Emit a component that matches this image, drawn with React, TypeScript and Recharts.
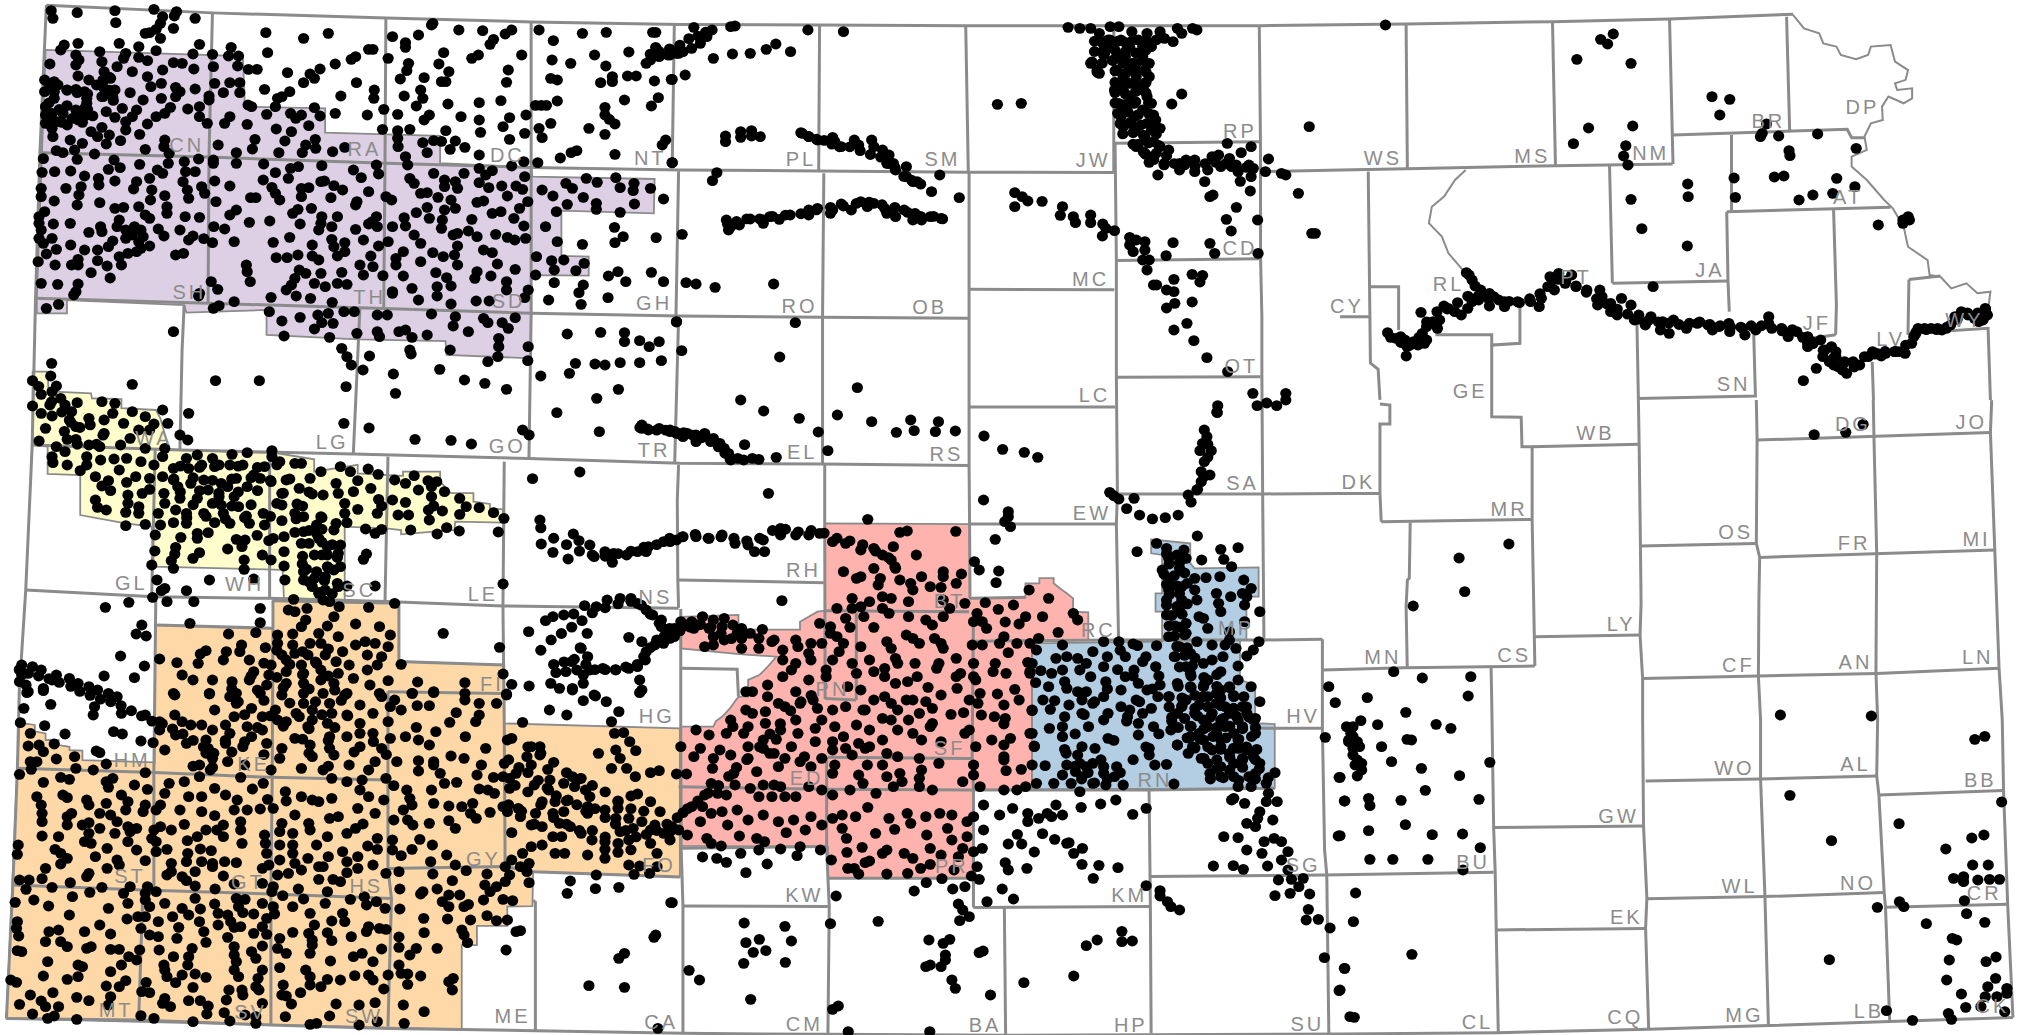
import React from "react";
import { ScatterChart, Scatter, XAxis, YAxis } from "recharts";

const WIDTH = 2019;
const HEIGHT = 1035;
const MAP_W = 1568;
const MAP_H = 803.8;
const UNIT = WIDTH / MAP_W;
const GRAY = "#8b8b8b";

const purpleArea = [35.4,38.8,188.6,43.5,190.2,82.8,252.5,84.1,252.5,103,341.8,105.6,341.8,126.8,412.5,130,413.5,137.2,508.4,139,507.8,165.7,436,163.6,436,198.8,457.2,199.3,457.2,214,412.5,213.6,412.5,278.3,346.8,275.7,346,265,277.8,263.5,207,260,207,240.7,144.8,242.8,143,237,52,233,52,243.3,28.6,243.3,28.6,231.7];
const yellowArea = [25.3,288.6,37,288.6,37.7,304,70.7,305.5,71.4,309.3,94.3,310,94.3,317,121.2,318.4,124.6,325,131.3,349,215.5,352,244,356.7,244,366.3,277.8,361,277.8,367.6,299.7,368.9,313,369.6,313,366.3,341.8,366.3,341.8,374,350.2,383,367.7,383,367.7,389.6,380.5,391.4,380.5,394.8,390.6,395.5,390.6,405.9,353.5,405.1,352.9,411.6,311.5,415,311.5,411.6,299.7,410.3,267.7,409,267.7,466,220.5,464.6,219.5,442.6,119.5,440,117.8,409,97.6,406.4,62.3,400,62.3,368.9,37,368,37,346.9,25.3,345.6];
const orangeArea = [212,466.5,309.8,468.5,309.8,513.8,391.6,516.4,391.6,561.8,528,565.7,528,681,414,677,413.5,703.7,394,704,394,719,370.4,719,370.4,734,358.6,734,358.6,799.5,5,791,15,561.3,27,563,27,568,35.4,569.6,35.4,574.7,45.5,574.7,45.5,578.6,54,580,54,582.5,64,583,64,590.3,120,592,120.5,485.4,212,488];
const pinkArea = [640.8,406.4,753.3,407,753.3,464.7,796.4,463.9,796.4,453,807.2,453,807.2,449,818.3,449,818.3,453,823.3,457,828.4,460.8,833.4,464.7,833.4,475,845.2,475.5,845.2,497,801.5,498.3,801.5,613,756,613.5,756,682,643,682,643,657.5,529,657,528.7,564.3,554,564.3,556,560,561,556.5,567,550,572,543,574,541,581,541,581,528,590,524,596,518,603,510,574,508,528.7,503.5,528.7,479,573.5,477.6,573.5,489,621.3,489,621.3,482.8,634.8,475,640.8,474.3];
const blueArea = [894,419,924.4,422,924.4,437.5,927.7,441.4,977.5,440.6,977.5,463.4,968,463.4,968,497,963,497,963,528,974.8,532,974.8,561.7,990,562.3,990,612.2,801.5,613,801.5,499.6,902.5,498.3,902.5,475,897.4,475,897.4,460.8,902.5,460.8,902.5,431,894,429.7];
const regionFills = ["#ddcfe4", "#fefdcb", "#fed8a6", "#ffb3af", "#b3cde3"];
const regionAreas = [purpleArea, yellowArea, orangeArea, pinkArea, blueArea];

const countyLines = [
[36,4,165,10,300,14,413,17,528,19,636.5,19.4,750,20,865,20,978,20,1092,18.6,1205.7,16.8,1296.6,14.8,1392.6,11],
[36,4,31,119,27.6,232,25,345.6,20,458,15,536,13.5,597,10,687,5,791],
[165,10,162.3,122,161.6,235],[299.7,13.5,299,126.8,298,239.5],[412.5,17,412.5,130,412.5,243,410.8,356],
[523.7,19,522,132],[527,133,525,245],[527,247,524,359],[527,361,526,388,526.4,450,527,472],
[32,118.6,161.6,122,299.7,126.8,412.5,130,528,132,636,132.8,752.6,133.8,865,134],
[978.9,133.3,1041,132,1093,131,1208,128.7,1299,127.4],
[27.6,231.7,161.6,235.5,298,239.5,412.5,243.3,528,245.4,638,246.4,752.6,247.2],
[25,345.6,139.7,349.5,274.4,352.6,410.8,356,528,359.8,638,360.3,752.6,361.6],
[20,458.2,119.5,463.4,208.8,464.7,299.7,467.2,390.6,470.6,527,472.4],
[143,237,141.4,272,139.7,349.5],[279.5,239.5,274.4,352.6],
[120.5,349.5,117.8,463.4],[209.4,352,209.4,464.7],[301.3,354.6,299,467.2],[391.6,358.5,390.6,470.6,391.6,562,392.3,673],
[121,464.6,119.5,600.6,119.5,691],[212,466.5,212,488,211.4,603.7,210.4,694.3,210.4,796],[122,485.4,212,488],
[212,466.5,309.8,468.5,309.8,513.8,391.6,516.4],[301.3,537.2,390.6,538.5],
[301.3,537,301.3,605.8,301.3,674.4,304,697.7,301.3,797.3],
[13.5,596.7,119.5,600,210.4,603.7,301.3,605.8],[10,687.4,111,691.2,210.4,694.3,304,697.7],[111,691,107.7,791.9],
[301.3,674.4,392.3,673,414,677,528,681],[528.7,473,528.7,564.3,529,658.8,530.4,703.6,530.4,802.5],
[415.8,699.8,415.8,800.5],[413.5,699.8,415.8,699.8],
[5,791,108,792.2,210.4,796,301,798.7,358.6,799.5,415.8,800.5,530.4,802.5,643,803.3,781,804,1040.7,803,1163.6,802,1280.4,799.4,1373.4,796.5,1467.6,793.4,1563.3,790.3],
[528.7,658.8,642,657.5],[530.4,703.6,643,704],[528.7,519,572.5,519.8,573.5,541],
[636.5,19.4,635.8,132.8],[639.8,134.6,638.8,246,638.8,360],[640.5,361,640.5,406,640.8,543],[527,450.4,639.8,452.5],
[750,20,752,133],[752.6,134,752.6,224.7,752.6,316,752.6,361.6,753,407,753.3,464.7],
[865,20,865,134],[866,111,867,202.4,867,293,867.8,383.6,867,407,868.7,497],
[978,20,978.9,111,979,200.6,980,246,980,291,980.6,383.6,981.6,497],
[865.4,111.3,978,110],[867,202.4,978,201],[752.6,224.7,865.4,225],[867,293,978.9,292.5],[753,316,866,316],
[867.8,383.6,980.6,383.6,1040.7,383.2,1071.7,383.2],[753,407,867,407],[753.3,464.7,796.4,463.9],
[640.8,474.3,752.6,475],[665,476,665,543.6],[640.8,542.4,665,543.6],[643,588,755,589],[642,588,642,660,643,682,644,704,643,802.5],
[527,611,641.5,613,756,613.5],[643,682,756,682],[756,475,755,587.6,756,613.5,756,682,756,704.7],[756,704.7,893.4,704],[780,704.7,781,803.8],
[892.4,613.5,893.4,704,894,802.5],[756,498,868.7,497,981.6,497,1027,496.5],[756,613.5,892.4,613.5,990,612.2],
[973,565.6,1027,565.6],[1027,496.5,1027,565.6,1028.7,660,1030.4,679.5,1032,802.5],[1027,520.3,1091,518.6,1192,517.3],
[893.4,680.8,1028.7,679.5,1160,677.4],
[1158,518,1158.5,543.6,1160,642.7,1161.2,677.4,1162,722,1163.6,802],
[1160,642.7,1276.4,641.5],[1162,722.2,1278,721],
[1272.4,310.7,1273,345,1274,423.3,1274.5,469,1273.7,493.2,1275.7,526.9,1275.7,559,1276.4,641.5,1279,697.6,1278,721,1280.4,799.4],
[1278,606.5,1367.3,605,1457.5,602.6],[1279,698,1370.7,696.3,1463.3,693.2],
[1364,310.7,1364.6,341.8,1364,422,1366.6,432.9,1366,466,1365.6,525,1367.3,559,1367.3,605,1370.7,696.3,1373.4,796.5],
[1454.8,310.7,1455.5,346,1457.5,429.8,1456.9,521.7,1458.2,559,1457.5,602.6,1459.2,617.4,1463.3,693.2,1464.3,704,1467.6,793.4],
[1459.2,617.4,1556,614],[1464.3,704.6,1559.2,702.3],
[1546.8,310.7,1545.8,335.8,1549.2,427.2,1552.5,519,1555,559,1556,614,1559.2,702.3,1563.3,790.3],
[1274,424,1364,422],[1275.7,527,1365.6,525,1457.5,523,1552.5,519],[1364.6,341.8,1545.8,335.8],[1366.6,432.9,1549.2,427.2],
[1092.9,518.6,1092,471,1093,450.5,1094.5,449,1095.2,406],[1072.7,405.2,1189.9,403.4],
[1071.7,313.8,1079.4,314.6,1079.4,329.3,1071.7,329.3,1071.7,383.2,1072.7,405.2],
[1158.5,268,1158.5,323.6,1181.4,324,1182,347,1189.9,347,1189.9,403.4,1192,517.3],[1189.9,347,1273,345],[1192,494.5,1273.7,493.2],
[1092,18.6,1093,131],[1205.7,16.8,1208,128.7],[1296.6,15,1299.3,127.4],[1299.3,104.8,1434.6,100.4,1438,107,1448,107],
[1387.5,13,1389.9,101.5],[1344.7,104.8,1344.7,163.6],[1341,164.4,1468.3,161],[1341,164.4,1342,218.2,1343,242],
[1424,163,1426.2,236.9,1425.6,260],[1397.6,264,1425.6,260],[1250,128.7,1252.2,220],[1252.2,220,1342,218.2],
[1482.5,217,1507,214.3],[1482.5,217,1481.8,259,1544,255,1545.8,310.7],[1454,281,1455,310.7],
[1271.3,252.4,1272.4,309.4,1363.3,307.5,1362,260],
[1180.4,238,1180.4,266.6,1158.5,268,1158.5,260,1114.8,260],[1064.3,222.6,1086.2,222.6,1086.2,256.3],
[1062.6,133.3,1064.3,282,1070.3,286.8,1071.7,310.6],[1040.7,246,1063.6,246],
];

const riverLines = [
[1392.5,11.6,1401,22,1412.8,25.9,1416,33.7,1426.2,36.2,1429.6,42.7,1441.4,46,1450.8,42.7,1453,36.2,1468.3,35,1471.7,47.9,1481.8,54.4,1480,62,1471.7,64.7,1473.4,69.9,1485,68.6,1485,76.4,1478.4,80.2,1466.6,75,1461.6,82.8,1462.2,93.2,1453,95.8,1448,106,1449.8,116.5,1438,121.7,1438,129.4,1449.8,139.8,1463.3,155.3,1470,161.8,1478.4,176,1481.8,191.6,1497,202,1498.6,213.6,1507,214.9,1515.4,224,1527.2,220,1535.7,227.8,1545.8,226.5,1544,240.7],
[1138.3,132,1130,139.8,1121.5,152.7,1112,160.5,1109.7,173.4,1119.8,183.8,1124.9,196.7,1138.3,212.3],
];

const labelNames = ["CN","RA","DC","NT","PL","SM","JW","RP","WS","MS","NM","BR","DP","AT","JA","PT","RL","CD","MC","CY","GE","OT","LC","OB","RO","GH","SD","TH","SH","WA","LG","GO","TR","EL","RS","SA","DK","SN","JF","LV","WY","DG","JO","WB","MR","OS","FR","MI","LY","CS","MN","CF","AN","LN","WO","AL","BB","GW","NO","WL","CR","EK","BU","SG","KM","HV","RN","MP","RC","EW","RH","NS","LE","SC","WH","GL","BT","PN","SF","ED","HG","FI","HM","KE","ST","GT","HS","GY","FO","MT","SV","SW","ME","CA","KW","PR","CM","BA","HP","SU","CL","CQ","MG","LB","CK"];
const labelXs = [145,283,394,505,622,732,849,963,1074,1190,1282,1373.4,1446.4,1435.3,1328,1224,1125,963,847,1046,1141.7,964,850,722,621,508,395,287,147,119.5,258,394,508,623,735,965,1055,1346.4,1411,1468.3,1525.6,1439,1531,1239,1172,1348,1440,1535,1259,1176,1074,1350,1441,1536,1347,1441,1538,1257,1443,1351,1541,1263,1144,1012,877,1012,897,960,853,848,624,509,375,279,190,102,737.5,646.5,737.5,626.4,510,382,102.7,197,101,192.6,284.5,375.4,511.8,90.2,194.6,282.8,398,513.5,624.7,739.2,624.7,765,878.2,1015.3,1147.4,1262.3,1354.8,1451.5,1547.4];
const labelYs = [112,115,120,122,123,123,124,101,122,121,118.6,93.2,82.8,152.7,209,214.9,220,192,216,237,303.4,284,306,238,237,235,233,230,226,339.6,343,346,349,351,352,375,374,298.2,250.6,262.7,248,329,327,336,395,413,421,418,484,508,510,516,514,510,596,593,605,633,685,688,693,712,669,671,695,556,605,487,489,398,442,463,461,458,453,452,466,534.6,580.4,603.7,555.3,530.7,589.7,592.9,680.3,684.7,688,666.6,671,784,785.7,788.3,788.3,793.5,695,672.5,794.7,796,796,794.7,793.4,789.5,787.5,785,781];

const dotsNorthwest = [118,32,122,55,178,38,265,32,267,68,355,28,407,35,402,48,375,50,370,70,360,88,345,98,335,100,400,85,370,115,450,55,460,133,275,130,320,140,360,152,180,130,148,135,140,150,613,98,700,115,757,100,617,158,663,218,773,192,810,178,820,170,850,148,860,148,738,207,715,222,700,248,725,235,822,248,610,268,668,275,650,290,640,295,635,320,786,288,863,270,862,295,885,328,847,345,773,340,725,323,738,348,905,110,965,105,998,70,995,75,935,128,935,142,1023,158,895,175,942,190,938,212,923,237,978,233,1012,192,1035,215,1018,245,1028,245,932,288,970,270,975,295,960,318,917,343,990,345,978,360,1033,312,1063,350,1105,308,1105,360,1155,302,1175,353,1160,380,1108,397,1175,418,1213,345,1210,400,945,388,917,392,882,388,1028,392,1058,90,1113,92,1180,90,1165,102,1138,118,1130,133,1203,165,1103,165,1088,175,1172,210,1168,247,1243,90,1276,122,1343,100,1398,97,1505,97,1512,97,1273,180,1316,190,1371,165,1450,156,1397,198,1512,142,1490,190,1500,180,1520,170,1540,165,1555,155,1565,160,1270,235,1285,240,1412,230,1412,245,1385,248,1447,228,1467,228,1509,243,1548,238,1285,303,1235,316,1248,316,1260,316,1440,300,1518,293,1502,318,1395,322,1395,345,1405,358,1418,372,1270,370,1358,385,1243,385,1395,403,1250,413,1535,420,1527,435,1330,452,1317,458,1292,474,1418,463,1550,488,1240,488,1208,485,1180,498,1105,465,1072,442,1050,423,1038,448,1018,424,1000,422,975,428,985,458,917,415,918,440,
115,192,175,165,182,180,230,155,290,160,175,195,235,185,320,172,340,182,400,188,445,162,420,190,447,207,375,210,305,215,240,215,270,200,285,175,180,228,205,240,240,240,255,235,340,230,372,250,348,260,405,262,450,267,103,240,125,245,103,275,125,275,155,270,175,268,195,275,240,265,265,270,300,278,330,300,372,295,405,290,415,275,105,320,125,295,200,295,235,290,260,290,120,340,105,345,145,340,175,330,195,325,200,310,245,335,282,325,315,330,393,322,433,327,460,320,460,350,478,370,105,370,130,365,155,375,180,360,120,385,122,410,200,345,265,352,305,350,360,350,380,340,340,372,290,365,235,382,210,395,225,410,252,405,290,390,322,403,278,422,245,432,190,430,162,420,380,420,378,440,130,452,145,458,172,450,335,448,218,462,390,460,100,476,178,478,263,480,322,493,388,490,425,485,458,477,97,517,126,515,163,513,195,528,250,508,277,503,363,510,375,520,428,515,450,515,345,535,227,535,265,543,315,545,228,555,422,545,95,565,152,565,187,560,308,567,350,570,432,570,465,560,95,590,182,585,380,587,472,580,435,595,125,603,347,600,230,608,178,615,265,625,285,622,320,620,385,620,385,640,103,635,90,650,335,645,345,655,427,650,460,652,90,670,123,672,162,670,275,660,95,690,270,680,310,680,325,690,232,680,365,687,205,697,235,695,290,690,415,690,90,715,120,715,305,705,330,710,378,708,445,708,435,720,470,716,490,728,100,730,163,735,260,723,290,715,320,725,345,738,130,748,195,750,225,750,250,740,325,745,107,762,180,778,225,782,275,770,315,755,295,760,423,760,405,765,88,785,127,795,165,795,180,795,247,798,280,795,210,818,254,834,95,850,133,853,180,852,175,875,170,885,107,925,135,913,
490,163,527,168,533,142,550,168,492,200,548,198,573,208,593,208,495,250,530,248,553,248,515,278,553,278,482,288,482,300,572,315,580,320,615,343,530,350,518,370,570,373,670,340,695,345,682,355,712,377,637,387,672,395,727,418,588,418,582,447,503,435,545,458,657,423,705,435,643,458,697,458,728,445,767,455,795,442,492,480,492,490,545,490,608,492,742,497,635,518,670,505,688,500,665,535,607,540,815,510,833,533,868,495,873,522,740,545,748,543,495,543,530,558,627,562,635,580,645,600,695,565,712,563,770,557,790,570,850,575,695,590,763,593,890,590,903,600,578,593,590,593,498,605,823,605,820,615,545,630,530,645,687,628,718,625,675,640,692,672,742,650,778,650,575,667,622,663,858,665,868,650,850,672,870,680,740,670,765,680,735,690,493,680,518,687,905,680,820,688,668,712,540,725,630,727,765,718,838,720,895,725,873,738,720,735,770,740,795,728,795,755,778,768,720,768,735,780,855,768,637,773,662,773,687,765,568,795,570,815,577,845,830,795,860,800,788,817,838,825,883,827,740,820,690,810,705,820,680,835,672,855,660,870,725,850,750,860,778,850,800,853,487,845,502,868,460,880,458,888,625,892,683,888,716,895,540,905,766,907,905,880,492,925,505,917,621,935,870,945,893,945,793,935,817,935,733,945,757,940,
905,875,965,900,950,865,1008,860,1008,888,1040,858,1030,833,1098,903,1128,903,1040,912,1168,845,1168,870,1218,870,1210,893,930,828,930,755,913,775,913,795,970,785,998,758,1005,818,1055,795,1022,770,1048,765,1055,738,1100,815,1095,835,1132,828,1188,808,1147,792,1115,750,1135,758,1045,705,1055,700,1080,693,1100,710,1143,703,1170,712,1187,720,1212,715,1208,678,1185,655,1198,625,1217,605,1135,640,1155,635,1088,658,1040,600,1025,630,1050,625,1020,660,1018,685,960,638,985,622,990,655,932,653,935,678,955,705,970,730,1010,592,970,580,985,578,1100,607,1115,603,1170,588,1157,558,1127,563,1190,558,1205,568,1105,548,1050,545,1025,540,1025,560,1055,565,955,550,945,535,1000,520,1070,520,1105,505,1135,512,1210,530,940,495,935,470,1120,525,
1250,570,1275,588,1305,550,1320,565,1352,535,1377,547,1420,533,1430,563,1462,550,1460,572,1500,565,1345,592,1375,610,1375,628,1308,613,1283,635,1463,612,1430,637,1530,597,1258,680,1285,725,1417,682,1437,710,1418,728,1513,713,1343,733,1237,770,1272,782,1300,780,1347,790,1278,810,1328,812,1235,825,1425,815,1403,828,1443,845,1502,817,1530,845,1278,848,1345,855,1335,878,1265,900,1340,913,1402,893,650,963,692,952,742,968,768,970,725,987,655,1008,760,1012,823,1000,870,995,875,1010,920,995,935,990,950,1012,985,1005,995,942,1050,950,1045,978,1115,955,1125,968,1188,953,1158,968,1172,985,1080,995,1150,1015,1150,1040,1218,1040,400,995,1308,1002,1385,997,1440,998,1440,1025,1475,1022,1520,1025,1497,1040,1560,965,788,1045,945,1050,1038,1050];

const dotsWest = [119,40,117,78,75,92,130,108,120,125,95,133,305,103,497,92,598,92,852,18,800,20,810,45,837,60,798,110,907,72,912,130,948,12,1014,58,1071,90,1118,100,1168,118,1125,35,1148,20,1217,32,1247,78,1313,70,1327,40,1372,42,1395,45,1430,38,1475,38,1525,32,1376,145,1426,118,1284,188,1382,245,435,190,793,220,851,234,957,268,1040,271,1087,282,1205,240,1220,255,
140,145,150,165,75,168,115,165,178,158,235,155,265,160,95,190,120,198,165,185,160,210,205,205,260,190,305,185,105,235,175,230,240,210,285,220,335,200,375,180,355,222,387,220,415,255,433,270,90,273,155,268,175,268,240,250,300,265,205,285,230,290,278,285,320,240,345,240,335,295,380,295,130,290,150,305,120,320,122,338,200,320,232,330,263,327,292,325,375,320,430,325,455,315,490,325,535,313,570,308,627,302,627,320,155,345,185,362,200,345,325,335,355,345,400,355,435,355,465,345,495,350,530,345,560,345,610,350,645,335,680,340,695,340,740,365,785,350,808,365,849,357,872,373,275,360,220,380,313,380,345,385,375,380,400,390,440,400,470,390,510,400,545,385,585,375,625,395,660,390,715,385,775,400,825,392,910,390,955,377,935,400,987,392,1007,395,250,392,292,397,235,408,255,422,345,418,328,430,378,430,410,410,480,420,525,410,570,410,600,385,690,415,815,425,855,415,965,420,995,410,1025,425,295,435,380,460,415,445,455,445,505,440,540,440,650,430,720,432,745,435,780,430,1060,445,905,450,995,440,220,450,295,460,320,470,405,480,430,490,510,465,550,470,650,465,685,462,795,460,825,478,873,448,880,468,935,457,1000,468,1075,470,1105,473,1138,488,1162,505,225,472,245,480,290,487,320,490,365,490,470,490,515,490,568,498,607,490,680,490,700,500,740,500,795,490,870,490,918,495,942,495,988,480,1020,483,1060,493,400,518,430,520,495,518,530,520,575,520,610,525,650,512,730,525,775,520,800,518,990,510,290,527,335,523,370,525,480,548,455,550,455,565,358,555,417,562,593,556,655,560,680,547,700,545,730,550,770,540,843,537,865,550,880,538,947,540,1008,552,1030,533,1059,543,1149,546,545,568,565,570,620,572,630,565,695,580,735,565,785,585,558,590,405,592,525,597,655,605,755,590,780,610,357,603,403,612,460,608,445,625,605,615,625,630,725,615,755,615,845,612,838,628,395,632,563,630,350,645,400,655,563,658,655,648,697,642,785,650,755,650,700,665,730,665,770,660,362,690,483,690,585,687,657,690,700,690,725,685,750,680,380,715,430,722,372,722,865,708,720,710,780,710,750,720,735,730,800,708,352,742,447,755,385,755,297,757,243,772,677,748,745,750,760,755,782,770,850,772,910,760,600,775,1160,702,
1228,386,1337,366,1245,510,1322,552,1335,572,1248,582,1275,607,1310,627,1360,585,1370,620,1395,605,1415,610,1412,637,1445,615,1470,605,1495,590,1530,575,1560,570,1490,605,1480,235,1495,240,1520,235,1545,240,1560,250,1480,225,
665,780,680,785,708,775,770,800,755,828,705,810,695,830,820,822,875,830,600,818,438,820,327,825,314,852,337,858,590,848,527,852,640,855,675,852,735,850,780,860,900,855,1022,850,1219,845,1354,850,1152,892,557,885,612,893,640,880,675,885,715,880,740,880,820,885,842,875,865,880,895,890,475,902,462,912,522,905,553,905,650,915,680,910,710,915,750,915,790,905,847,915,880,920,368,927,408,938,457,940,515,930,575,930,625,945,660,930,695,945,730,940,775,935,805,945,847,960,870,945,925,943,278,918,333,948,240,978,310,983,420,975,585,965,620,975,660,965,700,970,740,960,780,970,815,985,895,992,445,990,490,990,535,995,575,990,615,1005,660,1000,700,1000,740,990,770,1000,853,1005,963,996,1072,998,1160,972,1180,1003,1270,1000,1282,968,1305,965,400,1030,483,1030,545,1030,600,1030,650,1035,700,1030,745,1030,800,1030,875,1030,951,1030,1000,1025,1072,1030,1168,1035,1320,1015,
50,945,75,950,95,960,50,975,45,995,60,1005,65,1025,100,1015,130,975,120,990,160,985,180,1000,205,1010,225,1020,250,1030,270,1040,
1348,767,1375,770,1400,750,1430,745,1455,745,1470,760,1490,780,1505,795,1525,810,1525,830,1555,835,1323,792,1300,795,1275,800,1258,812,1338,893,1355,920,1340,895,1450,862,1480,875,1530,880,1510,885,1490,905,1488,930,1470,950,1450,955,1420,960,1390,955,1360,960,1330,960,1318,935,1345,975,1345,1000,1370,1035,1475,990,1480,1020,1290,1015,1220,1008,1555,860];

const dotsSouthwest = [62,8,100,2,117,43,55,55,218,50,215,75,280,70,335,75,103,107,47,98,150,132,262,125,282,132,325,153,353,158,380,180,222,183,230,188,245,222,70,130,65,168,125,162,90,165,100,185,130,207,172,200,70,215,85,215,175,235,215,240,45,253,72,238,335,248,100,277,140,262,160,268,260,265,245,275,250,292,310,285,340,298,280,315,85,320,95,345,145,315,155,323,200,330,205,345,97,370,97,395,165,370,155,380,245,340,295,335,335,345,230,370,255,375,270,395,290,360,330,365,155,405,190,405,205,398,230,415,265,430,295,410,300,425,315,415,97,438,135,440,205,430,195,455,210,460,295,455,42,465,40,493,127,478,140,490,155,505,220,500,247,475,315,480,270,510,140,522,275,525,335,512,247,535,105,535,205,550,200,560,45,570,67,570,97,566,162,578,300,590,60,598,120,592,235,592,207,607,285,610,335,610,35,637,78,630,112,648,167,620,295,640,250,655,160,675,293,687,318,680,40,695,38,715,43,738,113,725,135,720,195,725,230,705,255,732,325,715,345,735,105,755,140,755,155,770,210,770,200,775,255,778,275,778,40,782,50,785,322,780,297,800,315,810,110,815,180,825,190,830,280,825,100,858,155,868,180,860,255,845,25,870,38,877,245,888,275,890,290,872,122,908,337,877,327,905,345,908,70,915,255,920,177,922,205,932,45,943,95,933,105,950,135,950,250,945,75,972,110,985,125,978,177,988,325,977,355,985,
403,15,483,12,530,20,545,40,580,55,635,60,700,40,720,60,760,40,795,15,830,45,860,70,403,75,420,95,440,105,465,105,495,60,540,80,605,80,640,90,690,80,720,90,765,70,800,75,880,20,368,95,368,120,405,135,430,160,490,120,520,105,570,110,605,120,660,95,710,110,755,100,830,100,895,95,910,30,900,50,950,10,1000,8,1072,30,1105,40,1145,40,1168,12,925,60,962,47,990,47,1052,68,1105,75,1037,97,1097,95,960,112,1005,125,1073,140,1120,175,1040,198,1070,205,1000,215,1110,225,1100,255,1138,262,
475,150,530,130,580,140,615,160,650,175,680,145,715,165,760,140,800,140,830,130,860,130,900,145,935,140,965,150,990,165,880,175,830,170,760,175,560,170,520,160,480,175,490,205,525,215,645,205,720,200,770,195,805,225,865,215,915,215,965,212,1000,225,460,225,485,240,555,262,625,240,695,235,745,240,765,265,850,240,965,243,890,265,800,275,835,270,1015,250,1025,280,1053,277,995,300,1105,297,1125,300,1140,310,460,260,390,280,425,275,495,295,520,315,582,297,607,280,658,305,695,320,720,330,765,325,830,300,850,320,908,287,938,300,945,325,660,333,380,310,370,345,435,320,465,320,547,330,617,328,735,335,825,355,885,330,950,345,1000,340,1035,348,1065,350,1090,340,1160,350,
360,360,415,360,465,365,495,377,540,360,570,360,600,357,630,355,865,370,930,360,1085,370,1130,367,1170,365,370,410,425,403,475,420,515,405,355,420,500,420,555,395,650,400,680,375,712,400,760,385,780,380,837,402,908,390,940,390,952,405,990,400,1035,392,1098,385,1050,415,395,420,350,445,360,455,555,420,610,435,645,425,675,430,715,420,755,440,800,430,820,415,870,445,905,450,968,448,1180,428,432,452,455,440,515,440,558,460,612,460,645,465,675,465,730,465,848,468,905,480,950,478,997,465,360,485,385,478,462,477,487,482,675,490,790,485,870,478,433,490,615,490,710,505,757,500,825,500,925,497,1030,495,430,515,395,520,465,515,490,520,518,515,545,518,645,510,620,525,680,520,800,515,860,525,993,515,1050,525,395,545,420,560,450,545,490,530,605,535,640,555,665,550,695,540,735,530,745,530,800,548,825,535,920,545,998,552,1075,542,1123,552,385,555,430,572,515,558,735,568,768,568,890,550,1043,572,1118,585,1145,590,360,605,340,590,450,588,496,597,540,582,605,580,630,590,688,597,755,605,785,575,922,597,975,605,1008,597,1130,605,335,630,450,625,545,625,565,628,627,605,652,617,700,627,808,628,840,620,868,635,970,612,1035,615,1060,615,1115,630,1160,628,1182,632,1020,635,345,650,380,640,420,655,462,657,495,642,550,650,605,640,630,650,750,640,845,645,888,655,922,657,1035,650,1070,650,1080,643,365,695,335,680,398,680,435,675,503,670,525,675,560,668,585,672,633,672,675,650,715,670,790,670,1123,677,1145,692,1170,690,977,685,1032,687,1085,690,460,695,503,705,532,695,555,710,615,685,765,693,795,695,412,712,470,725,540,712,605,710,725,705,850,710,875,715,890,718,1190,725,1200,722,1065,720,978,728,365,740,408,745,525,742,585,730,615,733,675,727,712,730,755,728,845,725,1070,735,645,745,720,750,810,740,920,741,765,752,1078,758,475,757,540,770,605,768,640,775,720,765,920,772,960,775,1008,775,1167,780,
367,780,443,775,580,785,660,790,715,790,880,777,835,790,815,800,945,795,400,800,435,800,540,795,590,805,762,813,860,815,545,815,378,825,433,825,605,840,645,833,705,840,920,825,925,850,380,840,385,860,420,855,450,852,475,862,540,840,550,860,715,860,850,855,895,855,940,852,970,858,755,868,785,870,818,857,405,878,445,892,595,865,653,885,715,885,740,890,860,870,1035,875,1045,865,940,883,528,900,558,900,590,890,597,900,885,897,1043,900,693,908,560,915,522,930,650,915,660,918,380,925,435,932,462,932,375,940,393,950,480,948,605,940,672,942,775,942,828,945,865,938,930,945,445,995,477,972,517,968,565,975,530,993,590,1000,658,980,760,978,590,980,715,1003,730,1000,828,1005,870,995,932,1000,978,965,
1170,150,1180,145,1205,97,1163,220,1160,260,1175,265,1175,295,1190,250,1225,170,1245,170,1215,200,1245,195,1225,225,1263,238,1268,270,1232,285,1265,300,1410,95,1427,65,1267,60,1307,75,1345,32,1373,18,1398,35,1475,8,1320,0,1417,130,1438,128,1452,155,1466,182,1380,190,1420,180,1430,205,1410,235,1445,235,1465,260,1500,248,1520,242,1320,260,1340,265,1300,280,1325,290,1350,300,1360,320,1455,318,1470,312,1500,335,1522,365,1250,335,1280,335,1310,330,1355,350,1425,335,1425,355,1195,355,1235,370,1200,380,1275,370,1300,365,1355,370,1395,360,1420,385,1225,405,1250,410,1290,400,1315,410,1275,440,1295,440,1340,430,1365,450,1395,455,1450,385,1480,395,1510,405,1550,410,1430,425,1460,415,1500,420,1450,450,1500,460,1530,430,1545,450,1225,470,1250,465,1280,490,1302,490,1355,495,1395,505,1395,478,1425,487,1515,490,1165,530,1180,510,1205,490,1220,520,1200,530,1175,555,1215,545,1220,578,1450,525,1475,528,1515,530,1375,555,1462,553,1498,550,1315,573,1308,610,1373,596,1427,592,1547,638,1512,735,1508,742,1440,790,1427,805,1358,887,1440,892,1517,1015,1165,575];

const dotsNorthCentral = [55,82,140,80,150,78,97,90,85,110,70,130,50,145,30,155,15,160,0,165,100,175,144,162,185,160,222,148,244,132,278,155,318,90,400,95,35,225,5,238,5,488,128,408,128,425,163,395,163,412,188,392,188,408,208,410,305,400,320,410,340,420,375,412,380,425,395,440,425,420,435,435,465,420,470,440,490,450,505,465,500,490,515,490,520,510,545,500,545,530,560,545,570,545,622,525,603,575,667,593,108,518,98,542,
130,660,140,680,160,675,185,657,215,660,230,650,252,658,277,645,320,630,340,625,375,630,395,612,418,630,440,605,470,610,495,625,520,650,540,630,565,640,580,660,600,650,625,655,320,645,370,640,455,620,500,640,560,660,215,670,135,690,28,703,37,848,60,852,104,862,239,852,15,966,289,968,27,1052,253,1071,163,1200,216,1233,298,1255,342,1296,386,1245,432,1163,465,1265,522,1297,555,1260,563,1292,612,1295,619,1265,658,1293,724,1308,767,1348,817,1357,848,1372,172,1334,364,1352,245,1372,227,1480,
0,1295,20,1300,40,1300,60,1305,80,1300,100,1315,115,1330,125,1345,135,1360,140,1380,170,1380,190,1375,205,1378,60,1325,30,1310,
918,82,945,85,970,85,990,100,1015,80,1035,80,1065,95,1100,100,1130,95,1140,115,1160,125,1170,85,1180,100,1205,85,1215,90,1000,130,1040,120,1080,120,1110,140,1000,165,970,190,985,210,990,220,1030,170,1050,170,1090,170,1030,210,1060,210,1095,210,1035,250,1060,250,1095,250,1025,270,1060,290,1100,290,1035,310,1070,310,1110,310,1040,350,1070,350,1115,345,1045,380,1075,385,1130,385,1120,360,1110,390,1095,410,1115,425,1075,440,1130,440,1095,460,1105,487,1125,525,1140,490,1150,450,1175,490,1190,480,1175,510,1210,515,1210,480,1240,510,1250,470,1265,465,1290,475,1270,500,1285,430,1317,458,1340,440,1295,500,1310,515,1335,495,1345,505,1340,530,1315,544,1373,515,1380,477,1410,520,1420,525,1474,380,1180,282,1157,312,1233,545,1245,590,1252,585,1449,580,1338,573,1306,622,1283,658,1355,660,1294,693,1480,700,1488,700,1245,730,1256,760,1356,760,1160,728,1144,767,1000,150,1020,140,1060,140,1090,140,1045,190,1075,190,1010,120,1045,230,1075,230,1045,270,1080,270,1045,330,1090,330,1060,370,1100,370,1090,270,1105,230,1105,190,755,313,810,310,
795,578,812,590,825,603,795,620,858,604,905,620,900,646,930,650,935,668,970,645,970,668,998,672,1005,685,1025,692,997,708,1060,712,1060,735,1075,720,1095,725,1068,755,1095,750,1090,780,1105,780,1100,810,1115,855,1122,855,1145,870,1162,875,1162,838,1204,823,1228,826,1222,846,1164,910,1204,906,1145,924,1192,970,1162,990,1208,1022,1238,1073,1286,1115,1344,1180,1354,1217,1376,1209,1399,1217,1420,1180,1420,1200,1263,1217,1262,1238,1232,1290,1238,1310,1228,1330,1248,1352,1222,1352,1232,1385,1225,1415,1245,1425,1225,1445,1215,1470,1195,1485,1014,1477,1035,1497,1070,1495,723,1500];

const dotsCentral = [0,125,30,110,60,110,90,115,120,105,150,130,180,135,195,155,215,120,255,85,255,105,290,105,320,105,345,100,375,125,405,130,440,150,470,145,490,165,510,180,515,140,456,58,530,97,547,93,659,94,568,165,218,155,
470,205,520,205,400,215,430,235,440,230,485,235,530,240,555,250,580,230,600,260,630,215,630,230,625,262,672,222,660,250,480,255,560,270,490,290,420,295,460,305,510,295,550,305,645,325,680,310,420,325,440,320,385,325,505,340,490,325,630,300,630,350,727,308,792,315,757,328,708,340,700,365,720,365,828,270,873,295,859,350,773,366,820,350,805,372,930,340,940,360,730,385,895,397,258,302,750,118,702,185,713,210,758,213,752,248,780,35,780,50,772,65,785,80,1216,108,1077,155,1122,130,
25,365,50,365,75,350,100,360,125,355,25,385,55,385,90,385,120,380,5,400,0,415,40,375,65,375,145,375,165,385,213,388,155,400,185,400,100,410,125,420,165,415,205,415,235,425,80,440,100,435,165,445,205,445,240,420,260,450,290,420,295,440,260,480,345,370,370,380,405,355,447,350,470,382,415,382,325,430,350,430,370,400,385,410,400,430,390,455,375,480,320,460,290,490,280,510,325,480,360,510,420,490,440,440,500,425,510,445,560,415,575,430,545,405,590,360,605,375,550,350,610,415,625,430,630,445,697,435,720,435,760,430,770,410,800,430,830,430,850,415,660,475,700,490,750,490,780,458,825,487,520,475,460,480,495,505,525,490,565,490,430,520,470,515,570,530,620,490,615,505,670,520,660,530,700,530,745,515,775,520,830,515,
175,575,190,575,225,555,260,530,290,575,320,540,360,530,410,560,440,570,495,530,520,550,548,545,595,562,662,565,705,540,795,568,225,590,265,620,300,610,330,600,175,630,220,635,250,610,340,625,375,630,405,620,450,630,470,600,495,590,510,610,545,600,560,600,625,585,690,600,710,610,715,580,755,582,805,600,770,615,445,630,525,630,590,605,605,625,648,643,677,638,718,645,748,650,773,655,835,630,140,660,190,640,145,680,180,680,220,670,255,690,290,660,335,685,350,660,380,680,430,675,460,690,490,655,510,660,550,660,575,640,605,670,600,680,690,690,770,672,60,690,90,705,130,700,170,700,215,720,245,718,295,700,335,725,375,725,400,710,435,730,460,740,490,720,525,690,560,700,580,720,625,725,680,700,785,715,770,735,742,720,835,700,25,740,70,745,115,750,180,740,215,745,240,760,280,740,310,770,350,775,375,750,405,745,450,745,500,760,525,770,575,775,705,740,770,770,770,780,840,740,55,770,100,775,140,765,180,775,230,760,265,775,300,785,380,795,375,820,420,765,455,795,490,795,530,820,580,810,620,790,700,795,775,812,810,808,98,805,147,820,200,815,15,822,38,822,250,800,325,800,435,825,500,830,575,835,700,825,95,850,150,855,185,865,215,855,240,855,255,860,320,860,445,850,535,845,515,860,475,880,415,870,375,885,575,860,605,870,675,845,715,860,770,870,800,870,820,860,845,850,110,880,80,885,130,885,205,890,290,890,265,890,235,890,350,870,
1145,145,1185,150,1270,148,1310,143,1226,180,1277,178,1295,200,1150,175,1190,175,1135,210,1175,205,1150,240,1210,235,1236,233,1268,230,1323,240,1150,270,1180,260,1210,270,1260,280,1293,290,1340,265,1320,280,1330,290,1145,300,1180,300,1215,300,1265,310,1325,315,1360,335,1175,330,1145,345,1270,335,1220,350,1325,365,1165,378,1190,370,1240,385,1290,395,1230,355,1190,400,1150,410,1215,425,1250,435,1280,435,1358,425,1290,420,1305,445,1345,450,1330,468,1275,470,1250,480,1230,490,1175,440,1165,470,1200,460,1190,500,1310,498,1270,515,
1170,550,1200,520,1240,540,1270,570,1300,590,1320,620,1150,590,1190,600,1230,590,1260,610,1170,640,1210,640,1250,640,1290,640,1330,640,1200,680,1240,680,1280,680,1320,680,1345,660,1230,720,1270,720,1310,720,1350,700,1330,750,1290,760,1250,750,1300,790,1345,770,1200,710,1170,735,1195,760,1240,790,1270,800,1320,780,1360,790,1350,820,1375,850,1395,818,1245,820,1270,830,1300,830,1335,830,1310,860,1300,895,1380,880,1340,860,1360,605,1350,655,1310,540,1340,560,1290,560,1200,560,1230,560,1260,580,1220,615,1280,620,1180,620,1230,660,1270,660,1310,660,1220,700,1260,700,1300,700,1270,740,1310,745,
845,450,905,435,975,455,1000,425,1035,425,1078,437,1122,437,890,475,915,470,940,475,1050,470,1090,485,960,490,835,490,905,510,945,510,1000,500,1070,510,1120,500,830,520,855,512,880,520,910,545,970,530,1050,530,1080,550,843,548,873,560,940,575,1005,545,1100,570,1130,555,915,565,960,575,1040,570,860,600,887,602,950,600,1000,590,1075,600,1125,590,835,632,877,628,920,615,975,610,1040,620,1090,640,910,650,950,640,1010,640,1060,630,1110,625,875,685,905,680,965,680,1000,660,1055,650,1080,670,1115,680,1155,690,830,700,905,710,1010,715,1080,705,840,738,910,748,980,745,940,765,950,740,1105,745,1105,765,1170,735,835,795,865,797,915,795,945,790,975,790,1030,800,1118,795,1145,793,905,825,935,815,1000,820,1025,830,885,850,925,850,945,875,975,850,1005,855,1045,855,1162,852,1225,775,1205,740,960,800,1000,800,950,830,1519,560,1534,608,1511,712,1543,832,1555,903,1560,680,1565,720];

const dotsSouthCentral = [0,95,30,38,50,20,75,20,95,40,120,35,155,30,180,60,215,45,250,65,285,60,325,50,350,75,375,55,397,45,428,50,456,22,505,55,547,40,555,70,590,50,622,40,650,45,685,65,700,50,20,90,40,105,70,65,85,115,95,130,118,138,133,75,160,108,200,115,218,125,268,98,312,90,397,85,407,115,474,100,518,88,592,105,640,85,650,120,685,110,723,90,205,150,255,147,300,140,347,150,443,142,408,157,490,160,500,150,540,160,560,175,600,145,625,165,665,170,675,145,700,155,720,145,75,171,108,175,130,187,163,160,224,192,293,167,372,180,410,205,425,205,435,222,450,188,460,183,500,222,548,220,578,205,600,193,655,210,708,200,175,218,695,228,713,238,627,236,591,248,563,273,652,267,680,260,383,288,665,312,675,330,690,350,668,362,731,305,792,297,766,267,5,308,370,371,480,364,
723,15,760,45,790,25,825,40,825,65,850,55,870,40,880,50,905,45,890,15,948,22,993,12,1067,43,1098,25,1028,0,801,103,859,101,887,118,780,132,811,132,840,156,915,130,920,128,951,145,931,160,950,193,989,196,1033,203,976,235,773,188,780,210,823,205,1098,257,1130,272,1130,288,1147,305,1155,320,1175,330,
1295,0,1325,10,1375,5,1400,5,1360,35,1390,60,1330,70,1350,80,1355,55,1277,110,1310,113,1370,125,1393,115,1410,125,1330,150,1365,160,1425,155,1410,180,1425,210,1253,198,1299,197,1322,208,1378,198,1403,240,1433,238,1460,235,1450,260,1475,282,1395,287,1430,280,1472,328,1467,360,1495,358,1522,384,1541,108,1509,473,1555,505,1543,572,1568,650,
171,369,265,379,206,418,175,428,280,423,221,452,192,457,170,490,266,487,44,511,68,540,186,598,375,628,388,618,411,695,599,695,597,420,645,418,630,430,635,465,635,480,625,500,590,500,600,495,650,540,658,565,713,458,722,453,739,585,816,548,931,528,985,420,960,437,1042,394,1042,425,1066,423];

const dotsNortheast = [105,75,631,102,602,118,618,132,547,178,672,190,574,384,676,378,539,431,660,437,655,468,665,495,859,290,900,298,877,345,985,372,975,400,971,410,1013,408,1103,402,1192,445,1037,452,1039,467,910,534,1003,531,1025,528,1147,535,1189,560,1138,580,1092,585,1060,600,913,592,803,552,804,590,672,598,697,686,802,738,1243,675,1300,660,1312,650,1315,660,1300,670,723,860,187,937,
292,818,298,825,305,840,312,858,325,870,330,885,320,900,305,905,295,925,280,945,265,935,240,918,250,925,230,960,215,965,200,980,225,985,190,1000,110,998,140,1010,150,1020,170,1025,155,1040,180,1035,200,1020,153,1068,130,1015,195,1030,345,880,355,890,345,918,380,905,380,920,410,905,440,905,460,920,465,895,485,830,480,860,505,820,495,870,520,850,535,825,545,860,570,870,600,870,605,890,595,915,625,910,650,895,625,935,640,945,672,915,680,960,690,945,718,950,705,975,745,965,740,990,760,1000,770,960,800,985,825,970,850,975,860,990,875,980,898,970,900,995,930,985,935,1005,960,990,990,950,990,970,1020,985,1035,1010,1055,995,1080,1010,1080,1040,1110,1020,1120,1050,1145,1055,1115,1070,1130,1085,1150,1100,1170,1120,1165,1085,1185,1085,1200,1095,1100,1105,1070,1142,1220,1070,1240,1060,1260,1060,1280,1055,1305,1060,1320,1030,1335,985,1365,985,1390,990,1410,975,1435,935,1470,945,1490,925,1485,960,1495,945,1080,1030,1090,1025,1135,1040,1145,1070,1140,1095,1160,1110,1230,1055,1250,1068,1290,1055,1325,1010,1330,1000,1350,985,1380,985,1400,985,1420,950,1450,945,1465,955,1475,965];

const dotsEast = [1095,104,1168,97,1208,73,390,432,275,474,288,575,169,618,124,815,190,834,302,830,63,893,296,888];

const dotsSoutheast = [48,62,30,80,25,100,30,110,20,125,40,125,30,145,45,140,30,165,40,180,35,195,50,190,50,210,40,228,152,37,87,74,222,73,256,85,155,118,165,120,96,140,119,185,188,205,276,227,346,187,0,232,197,271,11,303,66,295,69,317,141,301,321,298,151,374,66,392,213,404,283,402,324,443,0,407,69,478,122,478,203,478,284,510,36,579,31,665,166,763,11,805,0,870,33,952,1017,45,1227,48,1039,286,1135,422,1130,779,1466,118,1489,109,1528,306,1291,371,1487,405,1459,414,1399,447,1461,495,1497,495,1417,535,1440,530,1440,545,1473,540,1500,538,1523,538,1292,605,1302,620,1241,622,1442,602,1447,641,1354,671,1489,667,1414,715,1424,720,1515,771,1407,780,1492,785,1514,835,1401,840,1496,860,1540,865,1435,882,1540,880,1517,890,1490,890,1445,922,1480,920,1535,935,1262,932,1405,940,1412,958,1322,961];

// Dense clusters and river bands, read directly in map units from the full picture.
const denseJewell = [850,32,856,33,862,31,868,32,874,33,880,31,886,32,892,33,898,31,850,40,858,41,866,39,874,40,882,41,890,39,848,48,856,49,864,47,872,48,880,49,888,47,852,56,866,55,874,57,882,55,890,56,866,64,874,63,882,65,890,64,866,72,874,73,882,71,890,72,866,80,874,81,882,79,892,80,868,88,876,87,884,89,892,88,870,96,878,95,886,97,896,96,872,104,880,103,888,105,898,104,884,112,892,111,900,113,890,120,898,119,906,121,880,112,888,118,896,124,904,128,912,127,920,128,928,129,936,127,944,126,952,127,960,128,968,130];
const denseBlueBlob = [925,525,935,526,945,524,915,533,925,534,935,532,945,533,955,534,908,541,918,542,928,540,938,541,948,542,958,540,966,541,908,549,918,548,928,550,938,549,948,548,958,550,968,549,910,557,920,558,930,556,940,557,950,558,960,556,970,557,915,565,925,564,935,566,945,565,955,564,965,566,975,565,922,573,932,574,942,572,952,573,962,574,972,572,928,581,938,580,948,582,958,581,968,580,976,582,935,589,945,590,955,588,965,589,975,590,945,597,955,598,965,596,978,597,940,605,950,604,962,606,975,605,985,604];
const denseBlueSpine = [906,430,914,431,908,438,916,437,904,446,912,447,920,445,906,454,914,455,922,453,908,462,916,461,906,470,914,471,922,469,910,478,918,477,908,486,916,487,912,494,920,493,914,502,922,503,912,510,920,509,928,511,916,518,926,517,860,510,870,505,880,500,890,510,868,520,880,525,860,535,850,545,842,555,835,570,828,585,835,595,845,600,855,590,865,575,875,560,885,545,895,535,900,525,910,560,900,570,890,580,880,590,870,600,860,605,850,608,840,605];
const denseKearny = [215,505,235,506,255,504,205,515,225,516,245,514,195,525,215,526,235,524,255,525,180,535,200,536,220,534,240,535,260,536,185,545,205,544,225,546,245,545,265,544,190,555,210,556,230,554,250,555,270,556,200,565,220,564,240,566,260,565,175,575,190,576,235,574,255,575,290,576,160,585,180,584,205,586,240,585,275,584,300,586,150,595,165,596,190,594,255,595];
const denseRiversWest = [15,520,22,523,30,525,38,527,46,530,55,533,62,537,70,540,78,543,86,545,94,548,102,552,110,556,118,560,126,562,134,566,142,570,150,575,158,580,166,585,420,505,428,497,436,492,444,487,452,482,460,476,470,472,480,469,490,467,498,470,505,477,512,484,520,488,528,490,536,487,544,485,552,487,560,492,568,496,576,495,430,516,438,514,446,512,455,516,462,520,470,520,478,520,486,518,495,516,500,510,505,503,510,497,516,494];
const denseRiversFord = [395,590,403,596,410,600,418,606,425,612,432,618,440,622,448,625,455,630,462,628,470,635,478,640,486,645,494,650,502,648,510,645,518,640,526,635,534,628,542,622,550,616,558,610,566,603,400,610,410,615,420,625,430,635,440,640,450,645,460,645,470,650,480,655,490,660,395,625,405,630,415,640,410,580,420,585,430,592,440,600,450,605,460,610,470,615,480,622,490,628,500,630,572,596,580,590,590,580,598,570,606,562,614,552,622,545,630,540];
const denseRiversNorth = [420,410,430,418,440,423,450,428,460,431,470,432,480,430,490,428,500,425,510,423,520,418,530,417,540,415,550,418,560,417,570,418,580,420,590,418,600,412,610,411,620,413,630,412,640,414,650,418,660,420,670,423,680,428,690,433,695,440,497,332,503,333,510,334,517,334,524,335,531,336,538,338,545,340,552,343,558,347,563,352,567,356,573,356,622,103,628,106,634,108,640,109,646,112,652,114,660,114,668,117,676,120,684,122,690,127,695,130,702,137,708,140,715,143,565,174,572,172,580,170,590,170,600,168,610,167,622,166,634,163,645,161,655,160,665,158,675,157,685,159,695,161,705,165,715,168,725,168,732,170,505,42,512,40,520,38,528,35,535,30,542,28,548,25,865,385,875,395,885,400,895,403,905,402,915,400,925,390,930,380,935,370,938,355,938,345,945,320];
const denseKansasRiver = [1080,262,1088,266,1095,268,1102,262,1108,250,1116,242,1124,240,1132,235,1140,230,1148,230,1156,232,1164,233,1172,234,1180,235,1188,232,1196,228,1204,222,1210,217,1216,218,1224,222,1232,227,1240,232,1248,236,1256,240,1264,244,1272,248,1280,249,1288,250,1296,251,1304,252,1312,251,1320,250,1328,252,1336,253,1344,254,1352,254,1360,253,1368,253,1376,255,1384,257,1392,256,1400,262,1408,267,1416,272,1424,278,1432,282,1440,285,1448,277,1456,275,1464,273,1472,273,1480,268,1488,258,1496,256,1504,256,1512,254,1520,248,1528,243,1536,243,1542,240];
const denseWallace = [140,362,155,363,170,361,185,362,200,363,215,361,135,372,150,371,165,373,180,372,195,371,210,373,225,372,140,382,155,381,170,383,185,382,200,381,220,383,240,382,150,392,165,391,180,393,195,392,215,391,235,393,145,402,160,401,175,403,190,402,210,401,230,403,250,402,240,412,250,411,240,422,250,421,258,423,235,432,250,431,262,433,238,442,255,441,240,452,252,451,262,453,248,460,258,461,30,300,40,312,48,320,55,328,62,332,70,330,80,338,50,335,60,345,75,345,38,65,45,66,52,70,60,72,68,73,75,66,80,62,85,70,38,80,46,85,52,82,60,88,68,85,40,92,48,95,56,92,64,95,72,90,80,75,88,78,85,60];

const dotSources: [number[], number, number, number][] = [
  [dotsNorthwest, 0, 0, 680],
  [dotsWest, 0, 350, 680],
  [dotsSouthwest, 0, 690, 680],
  [dotsNorthCentral, 670, 0, 680],
  [dotsCentral, 670, 500, 680],
  [dotsSouthCentral, 670, 800, 680],
  [dotsNortheast, 1340, 0, 679],
  [dotsEast, 1340, 400, 679],
  [dotsSoutheast, 1340, 700, 679],
];
const denseSources = [denseJewell, denseBlueBlob, denseBlueSpine, denseKearny, denseRiversWest, denseRiversFord, denseRiversNorth, denseKansasRiver, denseWallace];

const pairs = (flat: number[]) => {
  const out: { x: number; y: number }[] = [];
  for (let i = 0; i + 1 < flat.length; i += 2) out.push({ x: flat[i], y: flat[i + 1] });
  return out;
};

const wellData = [
  ...dotSources.flatMap(([flat, ox, oy, w]) =>
    pairs(flat).map((p) => ({ x: (ox + (p.x * w) / 1568) / UNIT, y: (oy + p.y / 3) / UNIT }))
  ),
  ...denseSources.flatMap((flat) => pairs(flat)),
];
const labelData = labelNames.map((name, i) => ({ x: labelXs[i], y: labelYs[i], name }));

const NoDot = () => null;
const WellDot = (p: any) => <ellipse cx={p.cx} cy={p.cy} rx={5.6} ry={5.4} fill="#000" />;
const CountyLabel = (p: any) => (
  <text
    x={p.cx}
    y={p.cy + 7.5}
    textAnchor="middle"
    fontFamily="'Liberation Sans', Arial, sans-serif"
    fontSize={20}
    letterSpacing={3}
    fill="#8c8c8c"
  >
    {p.payload.name}
  </text>
);

const areaLine = (fill: string) => (p: any) =>
  (
    <polygon
      points={p.points.map((q: any) => `${q.x},${q.y}`).join(" ")}
      fill={fill}
      stroke={GRAY}
      strokeWidth={1.8}
    />
  );

export default function App() {
  return (
    <div style={{ position: "absolute", left: 0, top: 0, width: WIDTH, height: HEIGHT, background: "#fff" }}>
      <ScatterChart width={WIDTH} height={HEIGHT} margin={{ top: 0, right: 0, bottom: 0, left: 0 }}>
        <XAxis type="number" dataKey="x" domain={[0, MAP_W]} hide allowDataOverflow />
        <YAxis type="number" dataKey="y" domain={[0, MAP_H]} reversed hide allowDataOverflow />
        {regionAreas.map((area, i) => (
          <Scatter
            key={`area${i}`}
            data={pairs(area)}
            isAnimationActive={false}
            shape={NoDot}
            line={areaLine(regionFills[i])}
            lineType="joint"
          />
        ))}
        {countyLines.map((l, i) => (
          <Scatter
            key={`county${i}`}
            data={pairs(l)}
            isAnimationActive={false}
            shape={NoDot}
            line={{ stroke: GRAY, strokeWidth: 3, fill: "none" }}
            lineType="joint"
            fill={GRAY}
          />
        ))}
        {riverLines.map((l, i) => (
          <Scatter
            key={`river${i}`}
            data={pairs(l)}
            isAnimationActive={false}
            shape={NoDot}
            line={{ stroke: GRAY, strokeWidth: 2, fill: "none" }}
            lineType="joint"
            fill={GRAY}
          />
        ))}
        <Scatter data={wellData} isAnimationActive={false} shape={WellDot} fill="#000" />
        <Scatter data={labelData} isAnimationActive={false} shape={CountyLabel} fill="#8c8c8c" />
      </ScatterChart>
    </div>
  );
}
